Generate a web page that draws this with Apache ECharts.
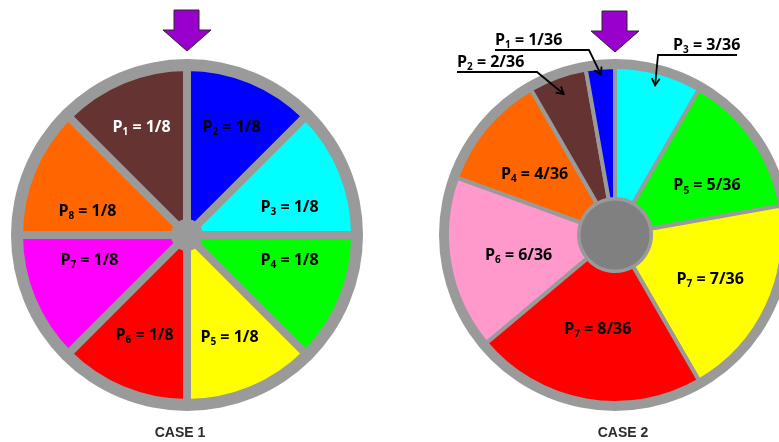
<!DOCTYPE html>
<html>
<head>
<meta charset="utf-8">
<script src="https://cdn.jsdelivr.net/npm/echarts@6/dist/echarts.min.js"></script>
<style>
html,body{margin:0;padding:0;background:#fff;}
#chart{width:779px;height:442px;}
</style>
</head>
<body>
<div id="chart"></div>
<script>
// ---- data ----
const leftNames = ['P2', 'P3', 'P4', 'P5', 'P6', 'P7', 'P8', 'P1'];
const leftValues = [1, 1, 1, 1, 1, 1, 1, 1];
const leftDenominator = 8;
const rightNames = ['P3', 'P5', 'P7', 'P7', 'P6', 'P4', 'P2', 'P1'];
const rightValues = [3, 5, 7, 8, 6, 4, 2, 1];
const rightDenominator = 36;
const caseLabels = ['CASE 1', 'CASE 2'];

// ---- styles / layout ----
const leftColors = ['#0000ff', '#00ffff', '#00ff00', '#ffff00', '#ff0000', '#ff00ff', '#ff6600', '#663333'];
const rightColors = ['#00ffff', '#00ff00', '#ffff00', '#ff0000', '#ff99cc', '#ff6600', '#663333', '#0000ff'];
const leftLabelColors = ['#000', '#000', '#000', '#000', '#000', '#000', '#000', '#fff'];
// small label nudges [dx, dy] to mimic the hand placement of the original
const leftLabelNudge = [[2, -5], [0, 15], [0, -17], [0, 0], [0, -2], [5, -17], [3, 19], [-3, -5]];
const rightLabelNudge = [[0, 0], [6, 11], [0, 0], [1, -9], [7, 2], [0, 7], [0, 0], [0, 0]];
const FONT = '"Open Sans", "DejaVu Sans", sans-serif';
const GRAY = '#9a9a9a';
const C1 = [187, 235], C2 = [615, 235];
const RING = 176;

const rich = (color) => ({
  p: { fontSize: 16, fontWeight: 'bold', fontFamily: FONT, color: color, lineHeight: 20 },
  s: { fontSize: 10, fontWeight: 'bold', fontFamily: FONT, color: color, verticalAlign: 'bottom', lineHeight: 14 },
  t: { fontSize: 16, fontWeight: 'bold', fontFamily: FONT, color: color, lineHeight: 20 }
});
const fmt = (den) => (p) => '{p|P}{s|' + p.name.slice(1) + '}{t| = ' + p.value + '/' + den + '}';

// annotation layout for the small slices of wheel 2 (by data index)
const annot = {
  7: { textX: 495, lineY: 50, bendX: 589, endX: 495, tipR: 161 },
  6: { textX: 457, lineY: 72, bendX: 537, endX: 457, tipR: 150 },
  0: { textX: 673, lineY: 55, bendX: 658, endX: 737, tipR: 155 }
};
const rTotal = rightValues.reduce((a, b) => a + b, 0);
function tipPoint(i) {
  let cum = 0;
  for (let k = 0; k < i; k++) cum += rightValues[k];
  const ang = (cum + rightValues[i] / 2) / rTotal * 2 * Math.PI;
  const r = annot[i].tipR;
  return [C2[0] + r * Math.sin(ang), C2[1] - r * Math.cos(ang)];
}

function disk(center, r, color, z, border) {
  return {
    type: 'pie', center: center, radius: [0, r], silent: true, z: z,
    startAngle: 90, label: { show: false }, labelLine: { show: false },
    emphasis: { disabled: true },
    itemStyle: { color: color, borderColor: border ? border.color : color, borderWidth: border ? border.width : 0 },
    data: [{ value: 1, name: '' }]
  };
}

const leftData = leftNames.map((n, i) => ({
  name: n, value: leftValues[i], itemStyle: { color: leftColors[i] }
}));
const leftLabelData = leftNames.map((n, i) => ({
  name: n, value: leftValues[i],
  label: { rich: rich(leftLabelColors[i]) }
}));
const rightData = rightNames.map((n, i) => {
  const d = { name: n, value: rightValues[i], itemStyle: { color: rightColors[i] } };
  if (annot[i]) d.label = { position: 'outside' };
  return d;
});

// leader lines + arrowheads for annotations
const leaders = [];
Object.keys(annot).forEach((k) => {
  const i = +k, a = annot[i];
  const tip = tipPoint(i);
  leaders.push({ type: 'polyline', silent: true, z: 100,
    shape: { points: [tip, [a.bendX, a.lineY], [a.endX, a.lineY]] },
    style: { stroke: '#000', lineWidth: 1.8, fill: null, lineJoin: 'miter' } });
  const dx = tip[0] - a.bendX, dy = tip[1] - a.lineY;
  const len = Math.hypot(dx, dy), ux = dx / len, uy = dy / len;
  const L = 8, th = 30 * Math.PI / 180;
  const p1 = [tip[0] - L * (ux * Math.cos(th) - uy * Math.sin(th)), tip[1] - L * (uy * Math.cos(th) + ux * Math.sin(th))];
  const p2 = [tip[0] - L * (ux * Math.cos(th) + uy * Math.sin(th)), tip[1] - L * (uy * Math.cos(th) - ux * Math.sin(th))];
  leaders.push({ type: 'polyline', silent: true, z: 100, shape: { points: [p1, tip, p2] }, style: { stroke: '#000', lineWidth: 1.8, fill: null } });
});

function pointer(cx, top) {
  return {
    type: 'polygon', silent: true, z: 100,
    shape: { points: [[cx - 13, top], [cx + 12, top], [cx + 12, top + 20], [cx + 24, top + 20], [cx, top + 41], [cx - 24, top + 20], [cx - 13, top + 20]] },
    style: { fill: '#9900cc', stroke: '#2a2a2a', lineWidth: 1 }
  };
}

const chart = echarts.init(document.getElementById('chart'));
chart.setOption({
  backgroundColor: '#ffffff',
  animation: false,
  series: [
    disk(C1, RING, GRAY, 1),
    {
      type: 'pie', center: C1, radius: [12, 168], startAngle: 90, clockwise: true, z: 2,
      silent: true, emphasis: { disabled: true }, avoidLabelOverlap: false,
      itemStyle: { borderColor: GRAY, borderWidth: 8 },
      label: { show: false }, labelLine: { show: false },
      data: leftData
    },
    {
      type: 'pie', center: C1, radius: [50, 166], startAngle: 90, clockwise: true, z: 3,
      silent: true, emphasis: { disabled: true }, avoidLabelOverlap: false,
      itemStyle: { color: 'rgba(0,0,0,0)' },
      label: { show: true, position: 'inside', formatter: fmt(leftDenominator) },
      labelLine: { show: false },
      labelLayout: function (params) {
        const n = leftLabelNudge[params.dataIndex];
        return { dx: n[0], dy: n[1] };
      },
      data: leftLabelData
    },
    disk(C2, RING, GRAY, 1),
    {
      type: 'pie', center: C2, radius: [36, 168], startAngle: 90, clockwise: true, z: 2,
      silent: true, emphasis: { disabled: true }, avoidLabelOverlap: false,
      itemStyle: { borderColor: GRAY, borderWidth: 4 },
      label: { show: true, position: 'inside', formatter: fmt(rightDenominator), rich: rich('#000') },
      labelLine: { show: false },
      labelLayout: function (params) {
        const a = annot[params.dataIndex];
        if (!a) {
          const n = rightLabelNudge[params.dataIndex];
          return { dx: n[0], dy: n[1] };
        }
        return { x: a.textX, y: a.lineY, align: 'left', verticalAlign: 'bottom' };
      },
      data: rightData
    },
    disk(C2, 36, '#808080', 4, { color: GRAY, width: 3 })
  ],
  graphic: [
    pointer(C1[0], 10),
    pointer(C2[0], 11),
    { type: 'text', silent: true, x: 180, y: 433, style: { text: caseLabels[0], fill: '#2b2b2b', font: 'bold 14px "Liberation Sans", Arial, sans-serif', align: 'center', verticalAlign: 'middle' } },
    { type: 'text', silent: true, x: 623, y: 433, style: { text: caseLabels[1], fill: '#2b2b2b', font: 'bold 14px "Liberation Sans", Arial, sans-serif', align: 'center', verticalAlign: 'middle' } }
  ].concat(leaders)
});
</script>
</body>
</html>
